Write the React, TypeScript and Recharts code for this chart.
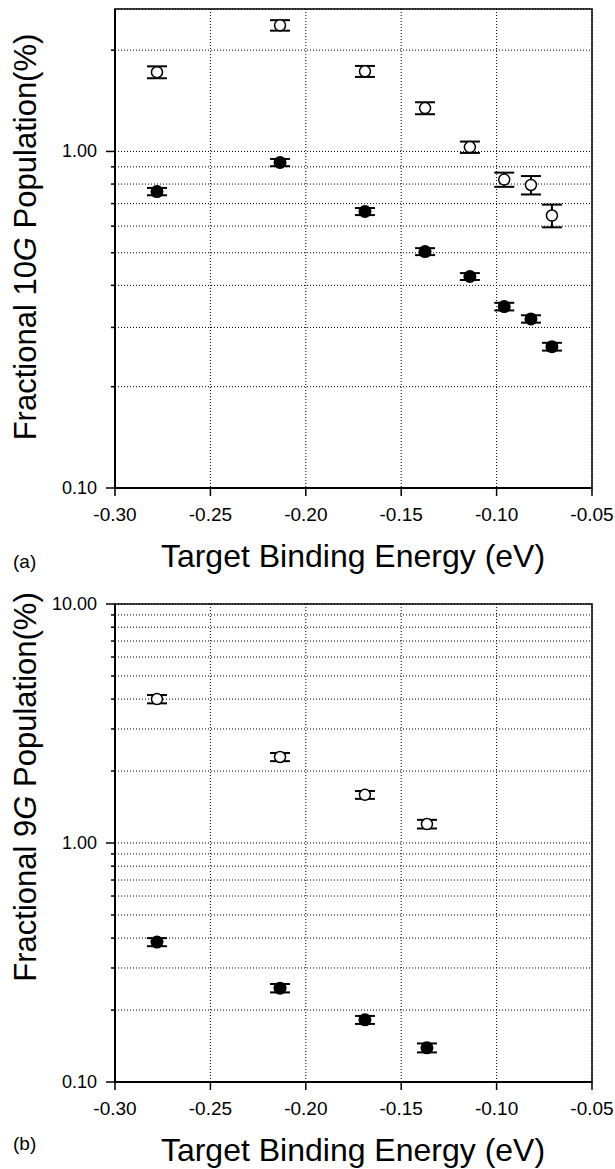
import {
  ScatterChart,
  Scatter,
  XAxis,
  YAxis,
  CartesianGrid,
  ErrorBar,
  ReferenceArea,
} from "recharts";

// binding energies (eV)
const energy10G = [-0.278, -0.2135, -0.169, -0.1375, -0.114, -0.096, -0.082, -0.071];
const energy9G = [-0.278, -0.2135, -0.169, -0.1365];

// panel (a): 10G population (%)
const open10G = [1.72, 2.37, 1.73, 1.345, 1.03, 0.825, 0.795, 0.645];
const open10GErr = [0.07, 0.085, 0.065, 0.055, 0.04, 0.04, 0.05, 0.05];
const filled10G = [0.76, 0.927, 0.663, 0.504, 0.425, 0.346, 0.318, 0.263];
const filled10GErr = [0.019, 0.023, 0.016, 0.012, 0.01, 0.009, 0.008, 0.007];

// panel (b): 9G population (%)
const open9G = [4.0, 2.29, 1.59, 1.2];
const open9GErr = [0.16, 0.09, 0.06, 0.05];
const filled9G = [0.385, 0.247, 0.182, 0.139];
const filled9GErr = [0.015, 0.01, 0.007, 0.006];

const xTicks = [-0.3, -0.25, -0.2, -0.15, -0.1, -0.05];
const topYTicks = [0.1, 0.2, 0.3, 0.4, 0.5, 0.6, 0.7, 0.8, 0.9, 1, 2];
const bottomYTicks = [0.1, 0.2, 0.3, 0.4, 0.5, 0.6, 0.7, 0.8, 0.9, 1, 2, 3, 4, 5, 6, 7, 8, 9, 10];

const FONT = "'Liberation Sans', Arial, Helvetica, sans-serif";

const toPoints = (xs: number[], ys: number[], errs: number[]) =>
  xs.map((x, i) => ({ x, y: ys[i], err: errs[i] }));

const isDecade = (v: number) => Math.abs(Math.log10(v) - Math.round(Math.log10(v))) < 1e-6;

const YTick = ({ x, y, payload }: any) => {
  const v = payload.value;
  const major = isDecade(v);
  return (
    <g>
      <line x1={x - (major ? 9 : 4)} x2={x} y1={y} y2={y} stroke="#000" strokeWidth={1.5} />
      {major && (
        <text x={x - 18} y={y} textAnchor="end" dominantBaseline="central" fontSize={18} fontFamily={FONT} fill="#000">
          {v.toFixed(2)}
        </text>
      )}
    </g>
  );
};

const OpenDot = ({ cx, cy }: any) => (
  <circle cx={cx} cy={cy} r={5.5} fill="#fff" stroke="#000" strokeWidth={1.5} />
);
const FilledDot = ({ cx, cy }: any) => <circle cx={cx} cy={cy} r={6.5} fill="#000" />;

interface PanelProps {
  top: number;
  height: number;
  marginTop: number;
  marginBottom: number;
  yMax: number;
  yTicks: number[];
  level: string;
  tag: string;
  open: { x: number; y: number; err: number }[];
  filled: { x: number; y: number; err: number }[];
  yTitleCenter: number;
  tagBaseline: number;
}

function Panel(p: PanelProps) {
  const plotBottom = p.height - p.marginBottom - 30;
  return (
    <div style={{ position: "absolute", left: 0, top: p.top }}>
      <ScatterChart
        width={615}
        height={p.height}
        margin={{ top: p.marginTop, right: 23, bottom: p.marginBottom, left: 0 }}
      >
        <CartesianGrid stroke="#000" strokeDasharray="1 2" />
        <XAxis
          type="number"
          dataKey="x"
          domain={[-0.3, -0.05]}
          ticks={xTicks}
          interval={0}
          allowDataOverflow
          height={30}
          tickSize={8}
          tickMargin={12}
          axisLine={{ stroke: "#000", strokeWidth: 2 }}
          tickLine={{ stroke: "#000", strokeWidth: 1.5 }}
          tick={{ fontSize: 19, fontFamily: FONT, fill: "#000" }}
          tickFormatter={(v: number) => v.toFixed(2)}
          label={{
            content: () => (
              <g>
                <text x={353} y={plotBottom + 79} textAnchor="middle" fontSize={32} fontFamily={FONT} fill="#000">
                  Target Binding Energy (eV)
                </text>
                <text x={13} y={p.tagBaseline} fontSize={19} fontFamily={FONT} fill="#000">
                  {p.tag}
                </text>
              </g>
            ),
          }}
        />
        <YAxis
          type="number"
          dataKey="y"
          scale="log"
          domain={[0.1, p.yMax]}
          ticks={p.yTicks}
          interval={0}
          allowDataOverflow
          width={115}
          tickSize={0}
          tickMargin={0}
          tickLine={false}
          axisLine={{ stroke: "#000", strokeWidth: 2 }}
          tick={<YTick />}
          label={{
            content: () => (
              <text
                x={25}
                y={p.yTitleCenter}
                transform={`rotate(-90 25 ${p.yTitleCenter})`}
                textAnchor="middle"
                dominantBaseline="central"
                fontSize={31}
                fontFamily={FONT}
                fill="#000"
              >
                Fractional {p.level}
                <tspan fontStyle="italic">G</tspan> Population(%)
              </text>
            ),
          }}
        />
        <ReferenceArea
          x1={-0.3}
          x2={-0.05}
          y1={0.1}
          y2={p.yMax}
          fill="none"
          stroke="#000"
          strokeWidth={1.5}
          ifOverflow="visible"
        />
        <Scatter data={p.open} shape={<OpenDot />} isAnimationActive={false}>
          <ErrorBar dataKey="err" direction="y" width={10} stroke="#000" strokeWidth={2} isAnimationActive={false} />
        </Scatter>
        <Scatter data={p.filled} shape={<FilledDot />} isAnimationActive={false}>
          <ErrorBar dataKey="err" direction="y" width={10} stroke="#000" strokeWidth={2} isAnimationActive={false} />
        </Scatter>
      </ScatterChart>
    </div>
  );
}

export default function App() {
  return (
    <div style={{ position: "absolute", left: 0, top: 0, width: 615, height: 1169, background: "#fff" }}>
      <Panel
        top={0}
        height={580}
        marginTop={9}
        marginBottom={62}
        yMax={2.65}
        yTicks={topYTicks}
        level="10"
        tag="(a)"
        open={toPoints(energy10G, open10G, open10GErr)}
        filled={toPoints(energy10G, filled10G, filled10GErr)}
        yTitleCenter={237}
        tagBaseline={568}
      />
      <Panel
        top={590}
        height={579}
        marginTop={14}
        marginBottom={57}
        yMax={10}
        yTicks={bottomYTicks}
        level="9"
        tag="(b)"
        open={toPoints(energy9G, open9G, open9GErr)}
        filled={toPoints(energy9G, filled9G, filled9GErr)}
        yTitleCenter={197}
        tagBaseline={560}
      />
    </div>
  );
}
